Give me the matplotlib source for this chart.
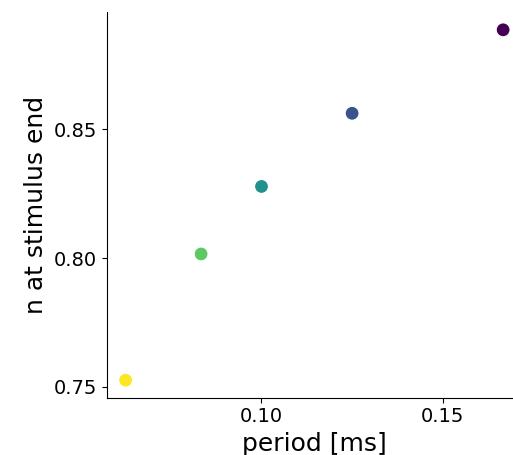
import matplotlib
matplotlib.use("Agg")
import matplotlib.pyplot as plt
import numpy as np

period = [1/16, 1/12, 1/10, 1/8, 1/6]
n_end = [0.7526, 0.8016, 0.8278, 0.8562, 0.8886]
hue_level = [4, 3, 2, 1, 0]  # viridis level (0 = dark purple)

W, H, DPI = 513, 455, 100
fig = plt.figure(figsize=(W / DPI, H / DPI), dpi=DPI)
left, right, bottom, top = 106.7, 522.0, 397.7, 12.3
ax = fig.add_axes([left / W, 1 - bottom / H, (right - left) / W, (bottom - top) / H])

cmap = plt.get_cmap("viridis")
colors = [cmap(h / 4) for h in hue_level]
ax.scatter(period, n_end, c=colors, s=100, edgecolors="white", linewidths=0.8, zorder=3)

ax.spines["top"].set_visible(False)
ax.spines["right"].set_visible(False)
ax.set_xticks([0.10, 0.15])
ax.set_yticks([0.75, 0.80, 0.85])
ax.set_xticklabels(["0.10", "0.15"])
ax.set_yticklabels(["0.75", "0.80", "0.85"])
ax.tick_params(labelsize=14)
ax.set_xlabel("period [ms]", fontsize=18)
ax.set_ylabel("n at stimulus end", fontsize=18)

fig.savefig("out.png", dpi=DPI)
